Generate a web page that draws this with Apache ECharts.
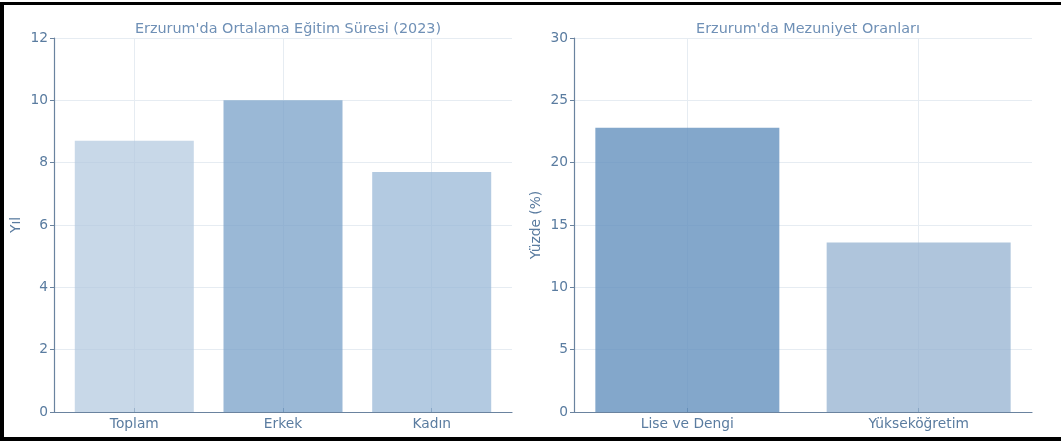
<!DOCTYPE html>
<html>
<head>
<meta charset="utf-8">
<script src="https://cdn.jsdelivr.net/npm/echarts@6/dist/echarts.min.js"></script>
<style>
html,body{margin:0;padding:0;background:#fff;overflow:hidden;width:1061px;height:441px;}
#chart{position:absolute;left:0;top:0;width:1061px;height:441px;}
.b{position:absolute;background:#000;}
</style>
</head>
<body>
<div id="chart"></div>
<div class="b" style="left:0;top:2px;width:1061px;height:3px;"></div>
<div class="b" style="left:0;top:2px;width:4px;height:439px;"></div>
<div class="b" style="left:0;top:437px;width:1061px;height:4px;"></div>
<script>
// Left chart data
const leftTitle = "Erzurum'da Ortalama Eğitim Süresi (2023)";
const leftCategories = ["Toplam", "Erkek", "Kadın"];
const leftValues = [8.7, 10.0, 7.7];
const leftColors = ["rgba(176,199,222,0.7)", "rgba(120,160,200,0.75)", "rgba(150,182,214,0.72)"];
const leftYTicks = [0, 2, 4, 6, 8, 10, 12];
const leftYName = "Yıl";

// Right chart data
const rightTitle = "Erzurum'da Mezuniyet Oranları";
const rightCategories = ["Lise ve Dengi", "Yükseköğretim"];
const rightValues = [22.8, 13.6];
const rightColors = ["rgba(100,145,190,0.8)", "rgba(148,178,208,0.75)"];
const rightYTicks = [0, 5, 10, 15, 20, 25, 30];
const rightYName = "Yüzde (%)";

const FONT = "DejaVu Sans";
const tickColor = "#5a7ca0";
const axisColor = "#6a839f";
const gridColor = "#e6ecf2";
const titleColor = "#6f90b6";

function xAxisFor(idx, cats, min, max) {
  const pos = cats.map((c, i) => i);
  return {
    type: 'value', gridIndex: idx, min: min, max: max,
    axisLine: {show: true, onZero: false, lineStyle: {color: axisColor, width: 1.2}},
    axisTick: {show: true, inside: true, length: 4, customValues: pos, lineStyle: {color: axisColor}},
    axisLabel: {show: true, customValues: pos, margin: 5, color: tickColor, fontFamily: FONT, fontSize: 13.8,
      formatter: v => cats[Math.round(v)]},
    splitLine: {show: true, customValues: pos, lineStyle: {color: gridColor, width: 1}}
  };
}
function yAxisFor(idx, ticks, name) {
  return {
    type: 'value', gridIndex: idx, min: ticks[0], max: ticks[ticks.length - 1],
    interval: ticks[1] - ticks[0],
    name: name, nameLocation: 'middle', nameGap: 31,
    nameTextStyle: {color: tickColor, fontFamily: FONT, fontSize: 13.8},
    axisLine: {show: true, onZero: false, lineStyle: {color: axisColor, width: 1.2}},
    axisTick: {show: true, length: 4, lineStyle: {color: axisColor}},
    axisLabel: {color: tickColor, fontFamily: FONT, fontSize: 13.8, margin: 6},
    splitLine: {show: true, lineStyle: {color: gridColor, width: 1}}
  };
}
function barSeries(idx, vals, colors, width) {
  return {
    type: 'bar', xAxisIndex: idx, yAxisIndex: idx, barWidth: width,
    data: vals.map((v, i) => ({value: [i, v], itemStyle: {color: colors[i]}})),
    z: 2
  };
}

const chart = echarts.init(document.getElementById('chart'), null, {renderer: 'canvas'});
chart.setOption({
  backgroundColor: '#fff',
  animation: false,
  title: [
    {text: leftTitle, left: 283, top: 17, textAlign: 'center',
      textStyle: {color: titleColor, fontFamily: FONT, fontSize: 14.4, fontWeight: 'normal'}},
    {text: rightTitle, left: 803, top: 17, textAlign: 'center',
      textStyle: {color: titleColor, fontFamily: FONT, fontSize: 14.4, fontWeight: 'normal'}}
  ],
  grid: [
    {left: 54, width: 458, top: 38, bottom: 29},
    {left: 574, width: 458, top: 38, bottom: 29}
  ],
  xAxis: [
    xAxisFor(0, leftCategories, -0.54, 2.54),
    xAxisFor(1, rightCategories, -0.49, 1.49)
  ],
  yAxis: [
    yAxisFor(0, leftYTicks, leftYName),
    yAxisFor(1, rightYTicks, rightYName)
  ],
  series: [
    barSeries(0, leftValues, leftColors, 119),
    barSeries(1, rightValues, rightColors, 184)
  ]
});
</script>
</body>
</html>
